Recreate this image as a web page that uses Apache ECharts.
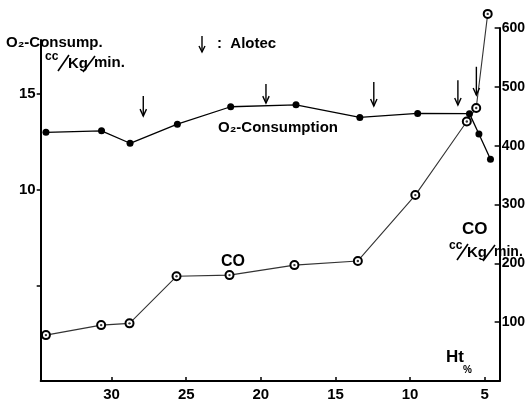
<!DOCTYPE html>
<html>
<head>
<meta charset="utf-8">
<script src="https://cdn.jsdelivr.net/npm/echarts@6/dist/echarts.min.js"></script>
<style>
  html, body { margin: 0; padding: 0; background: #fff; }
  #chart { width: 528px; height: 406px; }
</style>
</head>
<body>
<div id="chart"></div>
<script>
// Hematocrit (%) at each measurement, shared by both series
const htPercent = [34.4, 30.7, 28.8, 25.65, 22.1, 17.75, 13.5, 9.65, 6.2, 5.57, 4.8];
// O2 consumption, cc/kg/min (left scale)
const o2Consumption = [13.0, 13.08, 12.43, 13.43, 14.34, 14.44, 13.78, 13.99, 13.98, 12.91, 11.59];
// Cardiac output, cc/kg/min (right scale)
const cardiacOutput = [78, 95, 98, 178, 180, 197, 204, 316, 441, 464, 624];
// Alotec doses: Ht at the dose, arrow tip and tail on the O2 scale
const alotecHt = [27.92, 19.75, 12.57, 6.97, 5.74];
const alotecTip = [13.85, 14.53, 14.38, 14.43, 14.95];
const alotecTail = [14.9, 15.53, 15.63, 15.73, 16.43];
// Axis ticks and labels
const htTicks = [30, 25, 20, 15, 10, 5];
const o2Ticks = [5, 10, 15];
const o2Labels = [10, 15];
const coTicks = [100, 200, 300, 400, 500, 600];

const FONT = '"Liberation Sans", Arial, "DejaVu Sans", sans-serif';
const INK = '#000';

const chart = echarts.init(document.getElementById('chart'), null, { renderer: 'canvas' });

const htAxisBase = {
  type: 'value',
  inverse: true,
  min: 4.0,
  max: 34.75,
  splitLine: { show: false }
};

// "cc/Kg/min." unit label: raised "cc", long slashes, bold "Kg" and "min."
function unitText(x, y, kgX, minX, minSize) {
  const txt = (tx, ty, s, font) => ({
    type: 'text', x: tx, y: ty,
    style: { text: s, font: font, fill: INK, verticalAlign: 'middle' }
  });
  const slash = (x1, y1, x2, y2) => ({
    type: 'line', shape: { x1: x1, y1: y1, x2: x2, y2: y2 },
    style: { stroke: INK, lineWidth: 1.6 }
  });
  return {
    type: 'group', x: x, y: y,
    children: [
      txt(0, -6, 'cc', 'bold 12px ' + FONT),
      slash(kgX - 10, 8, kgX + 1, -8),
      txt(kgX, 1, 'Kg', 'bold 15px ' + FONT),
      slash(minX - 11, 9, minX + 1, -7),
      txt(minX, 0, 'min.', 'bold ' + minSize + 'px ' + FONT)
    ]
  };
}

const option = {
  backgroundColor: '#fff',
  animation: false,
  grid: [
    { left: 40.7, right: 25.5, top: 28, bottom: 25 },
    { left: 40.7, right: 25.5, top: 40, bottom: 25 }
  ],
  xAxis: [
    Object.assign({}, htAxisBase, {
      gridIndex: 0,
      axisLine: { lineStyle: { color: INK, width: 2 } },
      axisTick: { inside: true, length: 4, customValues: htTicks, lineStyle: { color: INK, width: 1.5 } },
      axisLabel: {
        customValues: htTicks, color: INK, fontWeight: 'bold', fontSize: 15,
        fontFamily: FONT, margin: 6
      }
    }),
    Object.assign({}, htAxisBase, {
      gridIndex: 1,
      show: false
    })
  ],
  yAxis: [
    {
      // cardiac output, right side
      type: 'value', gridIndex: 0, position: 'right',
      min: 0, max: 600,
      splitLine: { show: false },
      axisLine: { show: true, lineStyle: { color: INK, width: 2 } },
      axisTick: { show: true, inside: true, length: 5, customValues: coTicks, lineStyle: { color: INK, width: 1.5 } },
      axisLabel: {
        customValues: coTicks, color: INK, fontWeight: 'bold', fontSize: 14,
        fontFamily: FONT, margin: 2
      }
    },
    {
      // O2 consumption, left side
      type: 'value', gridIndex: 1, position: 'left',
      min: 0, max: 17.83,
      splitLine: { show: false },
      axisLine: { show: true, lineStyle: { color: INK, width: 2 } },
      axisTick: { show: true, length: 4, customValues: o2Ticks, lineStyle: { color: INK, width: 1.5 } },
      axisLabel: {
        customValues: o2Labels, color: INK, fontWeight: 'bold', fontSize: 15,
        fontFamily: FONT, margin: 5
      }
    }
  ],
  series: [
    {
      name: 'CO',
      type: 'line',
      xAxisIndex: 0, yAxisIndex: 0,
      clip: false,
      data: htPercent.map((h, i) => [h, cardiacOutput[i]]),
      symbol: 'emptyCircle',
      symbolSize: 8,
      itemStyle: { color: INK, borderColor: INK, borderWidth: 1.2 },
      lineStyle: { color: '#333', width: 1.1 },
      z: 3
    },
    {
      // centre dots of the CO markers
      name: 'CO dots',
      type: 'scatter',
      xAxisIndex: 0, yAxisIndex: 0,
      clip: false,
      data: htPercent.map((h, i) => [h, cardiacOutput[i]]),
      symbol: 'circle',
      symbolSize: 2.4,
      itemStyle: { color: INK },
      silent: true,
      z: 4
    },
    {
      name: 'O2-Consumption',
      type: 'line',
      xAxisIndex: 1, yAxisIndex: 1,
      clip: false,
      data: htPercent.map((h, i) => [h, o2Consumption[i]]),
      symbol: 'circle',
      symbolSize: 7,
      itemStyle: { color: INK },
      lineStyle: { color: INK, width: 1.3 },
      z: 5
    },
    {
      // Alotec dose arrows
      name: 'Alotec',
      type: 'custom',
      xAxisIndex: 1, yAxisIndex: 1,
      clip: false,
      data: alotecHt.map((h, i) => [h, alotecTip[i], alotecTail[i]]),
      renderItem: function (params, api) {
        const tip = api.coord([api.value(0), api.value(1)]);
        const tail = api.coord([api.value(0), api.value(2)]);
        const x = tip[0];
        return {
          type: 'group',
          children: [
            { type: 'line', shape: { x1: x, y1: tail[1], x2: x, y2: tip[1] },
              style: { stroke: INK, lineWidth: 1.4 } },
            { type: 'polyline', shape: { points: [[x - 3.2, tip[1] - 7], [x, tip[1]], [x + 3.2, tip[1] - 7]] },
              style: { stroke: INK, fill: null, lineWidth: 1.4 } }
          ]
        };
      },
      z: 6
    }
  ],
  graphic: [
    // left axis title
    { type: 'text', x: 6, y: 43, style: { text: 'O₂-Consump.', font: 'bold 15px ' + FONT, fill: INK, verticalAlign: 'middle' } },
    unitText(45, 63, 23, 49, 15),
    // Alotec key
    {
      type: 'group', children: [
        { type: 'line', shape: { x1: 202, y1: 36, x2: 202, y2: 52 }, style: { stroke: INK, lineWidth: 1.4 } },
        { type: 'polyline', shape: { points: [[199, 46], [202, 52], [205, 46]] }, style: { stroke: INK, fill: null, lineWidth: 1.4 } }
      ]
    },
    { type: 'text', x: 217, y: 44, style: { text: ':  Alotec', font: 'bold 15px ' + FONT, fill: INK, verticalAlign: 'middle' } },
    // series labels
    { type: 'text', x: 218, y: 128, style: { text: 'O₂-Consumption', font: 'bold 15px ' + FONT, fill: INK, verticalAlign: 'middle' } },
    { type: 'text', x: 221, y: 262, style: { text: 'CO', font: 'bold 16px ' + FONT, fill: INK, verticalAlign: 'middle' } },
    // right axis title
    { type: 'text', x: 462, y: 229, style: { text: 'CO', font: 'bold 17px ' + FONT, fill: INK, verticalAlign: 'middle' } },
    unitText(449, 252, 18, 45, 14),
    // x axis title
    { type: 'text', x: 446, y: 357, style: { text: 'Ht', font: 'bold 17px ' + FONT, fill: INK, verticalAlign: 'middle' } },
    { type: 'text', x: 463, y: 370, style: { text: '%', font: 'bold 10px ' + FONT, fill: INK, verticalAlign: 'middle' } }
  ]
};

chart.setOption(option);
</script>
</body>
</html>
